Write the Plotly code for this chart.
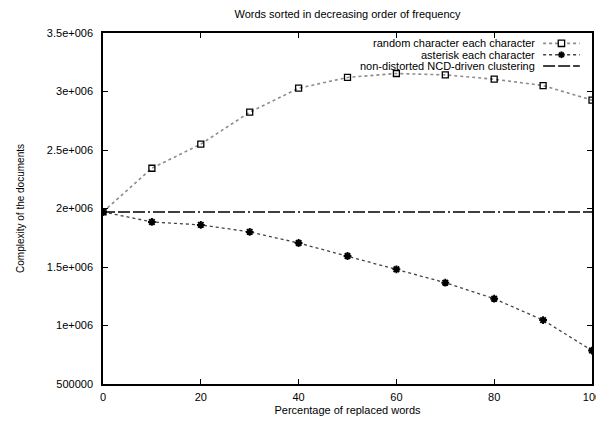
import plotly.graph_objects as go

pct = [0, 10, 20, 30, 40, 50, 60, 70, 80, 90, 100]
random_char = [1.971e6, 2.344e6, 2.55e6, 2.823e6, 3.028e6, 3.12e6, 3.154e6, 3.142e6, 3.105e6, 3.051e6, 2.926e6]
asterisk_char = [1.971e6, 1.885e6, 1.86e6, 1.80e6, 1.705e6, 1.594e6, 1.48e6, 1.366e6, 1.229e6, 1.046e6, 0.786e6]
baseline_value = 1.97e6

series_names = ["random character each character", "asterisk each character",
                "non-distorted NCD-driven clustering"]

y_tickvals = [500000, 1000000, 1500000, 2000000, 2500000, 3000000, 3500000]
y_ticktext = ["500000", "1e+006", "1.5e+006", "2e+006", "2.5e+006", "3e+006", "3.5e+006"]
x_tickvals = [0, 20, 40, 60, 80, 100]

FONT = "Liberation Sans, Arial, sans-serif"
RAND_LINE = dict(color="#8c8c8c", width=1.6, dash="dot")
AST_LINE = dict(color="#444444", width=1.3, dash="dot")
BASE_LINE = dict(color="black", width=1.3, dash="12px,3px,12px,3px,12px,3px,2px,3px")

# the page body has an 8px default margin, so the figure is drawn 8px in from the corner
W, H = 596, 413

fig = go.Figure()
fig.add_trace(go.Scatter(
    x=pct, y=random_char, name=series_names[0], mode="lines+markers",
    line=RAND_LINE,
    marker=dict(symbol="square-open", size=6, color="black", line=dict(width=1.3, color="black")),
))
fig.add_trace(go.Scatter(
    x=pct, y=asterisk_char, name=series_names[1], mode="lines+markers",
    line=AST_LINE,
    marker=dict(symbol="asterisk-open", size=6.5, color="black", line=dict(width=2, color="black")),
))
fig.add_trace(go.Scatter(
    x=[pct[0], pct[-1]], y=[baseline_value, baseline_value],
    name=series_names[2], mode="lines", line=BASE_LINE,
))

# custom legend (text right-aligned, key sample to the right), gnuplot style
leg_text_x = 0.8875
leg_x0, leg_x1 = 0.900, 0.975
leg_mid = (leg_x0 + leg_x1) / 2
leg_rows = [0.9705, 0.938, 0.906]
annotations = []
shapes = []
for name, yy, ln in zip(series_names, leg_rows, [RAND_LINE, AST_LINE, BASE_LINE]):
    annotations.append(dict(text=name, x=leg_text_x, y=yy, xref="paper", yref="paper",
                            xanchor="right", yanchor="middle", showarrow=False,
                            font=dict(family=FONT, size=11, color="black")))
    shapes.append(dict(type="line", xref="paper", yref="paper", x0=leg_x0, x1=leg_x1,
                       y0=yy, y1=yy, line=ln))
# square key marker
sq_w, sq_h = 0.0065, 0.009
shapes.append(dict(type="rect", xref="paper", yref="paper",
                   x0=leg_mid - sq_w, x1=leg_mid + sq_w,
                   y0=leg_rows[0] - sq_h, y1=leg_rows[0] + sq_h,
                   line=dict(color="black", width=1.3), fillcolor="white"))
# asterisk key marker
aw, ah = 0.0068, 0.0095
for dx, dy in [(aw, 0), (0, ah), (aw * 0.7, ah * 0.7), (aw * 0.7, -ah * 0.7)]:
    shapes.append(dict(type="line", xref="paper", yref="paper",
                       x0=leg_mid - dx, x1=leg_mid + dx,
                       y0=leg_rows[1] - dy, y1=leg_rows[1] + dy,
                       line=dict(color="black", width=2)))

axis_common = dict(
    showline=True, linecolor="black", linewidth=1.5, mirror="ticks",
    ticks="inside", ticklen=5, tickwidth=1.2, tickcolor="black",
    showgrid=False, zeroline=False, automargin=False,
    tickfont=dict(family=FONT, size=11, color="black"),
)

fig.update_layout(
    width=W, height=H,
    margin=dict(l=95, r=12, t=25, b=37),
    paper_bgcolor="white", plot_bgcolor="white",
    font=dict(family=FONT, size=11, color="black"),
    title=dict(text="Words sorted in decreasing order of frequency",
               x=339.5 / W, xanchor="center", y=1 - 6.5 / H, yanchor="middle",
               font=dict(family=FONT, size=11, color="black")),
    xaxis=dict(range=[0, 100], tickvals=x_tickvals, ticklabelstandoff=2,
               title=dict(text="Percentage of replaced words", standoff=4,
                          font=dict(family=FONT, size=11, color="black")),
               **axis_common),
    yaxis=dict(range=[500000, 3500000], tickvals=y_tickvals, ticktext=y_ticktext,
               ticklabelstandoff=6,
               title=dict(text="Complexity of the documents", standoff=20,
                          font=dict(family=FONT, size=10, color="black")),
               **axis_common),
    annotations=annotations,
    shapes=shapes,
    showlegend=False,
)

fig.write_html("out.html")
